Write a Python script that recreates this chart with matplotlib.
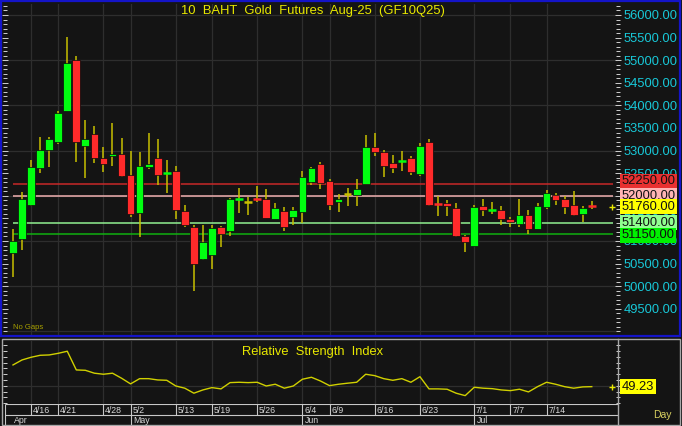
import numpy as np
import matplotlib
matplotlib.use('Agg')
import matplotlib.pyplot as plt
from matplotlib.patches import Rectangle
from matplotlib.ticker import MultipleLocator, FixedLocator, FuncFormatter

plt.rcParams['font.family'] = ['Liberation Sans', 'DejaVu Sans']

# ---- data ----
title = '10  BAHT  Gold  Futures  Aug-25  (GF10Q25)'

opens = [50740, 51050, 51800, 52620, 53020, 53180, 53880, 55010, 53100, 53370,
         52840, 52880, 52920, 52450, 51610, 52645, 52840, 52490, 52540, 51660,
         51320, 50600, 50690, 51300, 51230, 51930, 51857, 51930, 51935, 51495,
         51660, 51525, 51640, 52315, 52705, 52335, 51870, 52034, 52025, 52262,
         53080, 52975, 52720, 52755, 52840, 52490, 53200, 51825, 51835, 51725,
         51105, 50885, 51775, 51675, 51695, 51480, 51375, 51575, 51260, 51760,
         52010, 51930, 51795, 51590, 51775]
highs = [51270, 52085, 52790, 53300, 53290, 53880, 55520, 55090, 53680, 53540,
         53080, 53600, 53270, 53000, 52960, 53380, 53260, 52790, 52660, 51800,
         51350, 51350, 51360, 51330, 51940, 52170, 51980, 52220, 52145, 51840,
         51745, 51745, 52550, 52645, 52750, 52380, 52035, 52165, 52365, 53345,
         53385, 53015, 52905, 53000, 52880, 53175, 53260, 51990, 51910, 51835,
         51135, 51800, 51925, 51865, 51775, 51540, 51925, 51680, 51835, 52130,
         52070, 51990, 52105, 51785, 51880]
lows = [50200, 50800, 51780, 52500, 52640, 53140, 53870, 52755, 52400, 52720,
        52520, 52660, 52420, 51525, 51090, 52595, 52240, 52070, 51480, 51300,
        49890, 50580, 50390, 50870, 51110, 51615, 51570, 51855, 51500, 51490,
        51230, 51350, 51405, 52245, 52145, 51690, 51640, 51775, 51780, 52255,
        52890, 52425, 52505, 52545, 52470, 52430, 51785, 51560, 51560, 51085,
        50750, 50880, 51545, 51590, 51360, 51305, 51305, 51160, 51255, 51715,
        51790, 51605, 51545, 51430, 51710]
closes = [51000, 51930, 52640, 53010, 53260, 53840, 54930, 53180, 53260, 52840,
          52700, 52920, 52440, 51590, 52650, 52700, 52470, 52510, 51690, 51350,
          50490, 50980, 51295, 51150, 51925, 51945, 51857, 51915, 51505, 51740,
          51310, 51680, 52415, 52615, 52285, 51805, 51925, 52034, 52160, 53080,
          52965, 52665, 52610, 52770, 52530, 53095, 51790, 51815, 51770, 51105,
          50970, 51760, 51685, 51690, 51495, 51420, 51575, 51265, 51775, 52055,
          51910, 51745, 51575, 51740, 51760]

rsi = [67.9, 72.2, 74.5, 76.2, 76.5, 77.9, 79.7, 63.6, 63.3, 60.8,
       59.9, 60.8, 56.5, 51.6, 56.1, 56.1, 55.0, 54.7, 49.8, 47.9,
       43.6, 46.4, 48.4, 47.3, 52.7, 53.0, 52.7, 53.0, 49.8, 51.3,
       47.9, 49.8, 55.6, 57.3, 54.1, 50.1, 51.3, 52.2, 53.0, 59.9,
       58.7, 56.1, 54.7, 56.1, 53.0, 57.8, 47.3, 47.3, 47.0, 43.6,
       41.5, 48.7, 47.9, 47.5, 46.4, 45.8, 47.0, 44.7, 49.2, 53.0,
       51.3, 49.2, 47.9, 49.0, 49.23]

price_ticks = list(range(49500, 56001, 500))

date_pos = [2, 5, 10, 13, 18, 22, 27, 32, 35, 40, 45, 51, 55, 59]
date_labels = ['4/16', '4/21', '4/28', '5/2', '5/13', '5/19', '5/26',
               '6/4', '6/9', '6/16', '6/23', '7/1', '7/7', '7/14']
month_pos = [13, 32, 51]
month_labels = ['Apr', 'May', 'Jun', 'Jul']

level_prices = [52250, 52000, 51760, 51400, 51150]
level_colors = ['#e83030', '#ffb4b4', '#ffff00', '#90ff90', '#00f000']
line_colors = ['#c82828', '#f0b0b0', None, '#90f090', '#10b010']

# ---- style ----
BG = '#141414'
GRID = '#2e2e2e'
GREEN = '#00ff10'
RED = '#ff2a2a'
WICK = '#c8c000'
CYAN = '#18c8d8'
YEL = '#e8e800'

W, H = 682, 426
fig = plt.figure(figsize=(W / 100, H / 100), dpi=100, facecolor=BG)


def fbox(x0, y0, x1, y1):
    return [x0 / W, 1 - y1 / H, (x1 - x0) / W, (y1 - y0) / H]


ax = fig.add_axes(fbox(5, 4, 618, 335), facecolor=BG)
ax_rsi = fig.add_axes(fbox(5, 341, 618, 404), facecolor=BG)
ax_d = fig.add_axes(fbox(5, 404, 618, 426), facecolor=BG)

n = len(opens)
x0, x1 = -0.885, 66.9

# ---- price panel ----
for p in range(49000, 56001, 1000):
    ax.axhline(p, color=GRID, lw=0.9, zorder=0)
for d in date_pos:
    ax.axvline(d, color=GRID, lw=0.9, zorder=0)

for i in range(n):
    o, h, l, c = opens[i], highs[i], lows[i], closes[i]
    ax.vlines(i, l, h, color=WICK, lw=1.1, zorder=2)
    if abs(c - o) <= 30:
        col = GREEN if c > o else (RED if c < o else WICK)
        ax.hlines((o + c) / 2, i - 0.42, i + 0.42, color=col, lw=1.8, zorder=3)
    else:
        col = GREEN if c > o else RED
        ax.bar(i, abs(c - o), bottom=min(o, c), width=0.86, color=col,
               edgecolor='#0a0a0a', lw=0.5, zorder=3)

for p, lc in zip(level_prices, line_colors):
    if lc:
        ax.hlines(p, 0, n + 1.4, color=lc, lw=1.1, zorder=1)

ax.plot([n + 1.2], [closes[-1]], marker='+', ms=4, color=YEL, mew=1,
        clip_on=False, zorder=4)

ax.set_xlim(x0, x1)
ax.set_ylim(48920, 56243)
ax.set_xticks([])
ax.yaxis.set_major_locator(FixedLocator(price_ticks))
ax.yaxis.set_minor_locator(MultipleLocator(100))
ax.yaxis.set_major_formatter(FuncFormatter(lambda v, _: f'{v:.2f}'))
ax.tick_params(axis='y', which='both', left=True, right=True, labelleft=False,
               labelright=True, direction='inout', color='#d0d0d0', width=0.7)
ax.tick_params(axis='y', which='major', length=5, pad=1.5, labelsize=9.3,
               labelcolor=CYAN)
ax.tick_params(axis='y', which='minor', length=3)
for s in ax.spines.values():
    s.set_visible(False)

ytr = ax.get_yaxis_transform()
offsets = [70, 0, 0, 0, -20]
for p, bc, off in zip(level_prices, level_colors, offsets):
    ax.text(1.0055, p + off, f'{p:.2f}', transform=ytr, ha='left', va='center',
            fontsize=9.3, color='#101010', zorder=6, clip_on=False,
            bbox=dict(boxstyle='square,pad=0.12', fc=bc, ec='none'))

ax.text(0.502, 0.978, title, transform=ax.transAxes, ha='center', va='center',
        fontsize=9.4, color=YEL)
ax.text(0.013, 0.012, 'No Gaps', transform=ax.transAxes, ha='left',
        va='bottom', fontsize=5.5, color='#a8a000')

# ---- RSI panel ----
ax_rsi.axhline(50, color=GRID, lw=0.9, zorder=0)
for d in date_pos:
    ax_rsi.axvline(d, color=GRID, lw=0.9, zorder=0)
ax_rsi.plot(np.arange(n), rsi, color='#d0d000', lw=1.0, zorder=3)
ax_rsi.plot([n + 1.2], [rsi[-1]], marker='+', ms=4, color=YEL, mew=1,
            clip_on=False, zorder=4)
ax_rsi.set_xlim(x0, x1)
ax_rsi.set_ylim(34.3, 88.5)
ax_rsi.set_xticks([])
ax_rsi.yaxis.set_major_locator(MultipleLocator(5))
ax_rsi.tick_params(axis='y', left=True, right=True, labelleft=False,
                   labelright=False, direction='inout', length=3,
                   color='#d0d0d0', width=0.7)
for s in ax_rsi.spines.values():
    s.set_visible(False)
ax_rsi.text(0.502, 0.83, 'Relative  Strength  Index', transform=ax_rsi.transAxes,
            ha='center', va='center', fontsize=9.3, color=YEL)
ax_rsi.text(1.006, rsi[-1], f'{rsi[-1]:.2f}', transform=ax_rsi.get_yaxis_transform(),
            ha='left', va='center', fontsize=9.3, color='#101010', clip_on=False,
            bbox=dict(boxstyle='square,pad=0.12', fc='#ffff00', ec='none'))

# ---- date strip ----
ax_d.set_xlim(x0, x1)
ax_d.set_ylim(2, 0)
ax_d.axis('off')
LC = '#c8c8c8'
ax_d.hlines([0.04, 1.0, 1.96], x0, x1, color=LC, lw=0.8)
ax_d.vlines(date_pos, 0.04, 1.0, color=LC, lw=0.8)
ax_d.vlines([x0 + 0.05], 0.04, 1.96, color=LC, lw=0.8)
ax_d.vlines(month_pos, 1.0, 1.96, color=LC, lw=0.8)
for d, lab in zip(date_pos, date_labels):
    ax_d.text(d + 0.2, 0.55, lab, ha='left', va='center', fontsize=6.3,
              color='#d8d8d8')
for d, lab in zip([x0 + 0.05] + month_pos, month_labels):
    ax_d.text(d + 0.25 if d > 0 else d + 0.9, 1.5, lab, ha='left', va='center',
              fontsize=6.3, color='#d8d8d8')

fig.text(662 / W, 1 - 415 / H, 'Day', ha='center', va='center', fontsize=7.5,
         color='#d8d060')

# ---- frames ----
frames = [((1, 1), (680, 336), '#1414c8', 1.6),
          ((2, 339), (680, 425), '#a8a8a8', 1.0)]
for (a, b), (c, d), ec, lw in frames:
    fig.patches.append(Rectangle((a / W, 1 - d / H), (c - a) / W, (d - b) / H,
                                 transform=fig.transFigure, fill=False,
                                 ec=ec, lw=lw))
fig.lines.append(plt.Line2D([618 / W, 618 / W], [1 - 425 / H, 1 - 339 / H],
                            transform=fig.transFigure, color='#a8a8a8', lw=1.0))

fig.savefig('out.png', dpi=100, facecolor=BG)
